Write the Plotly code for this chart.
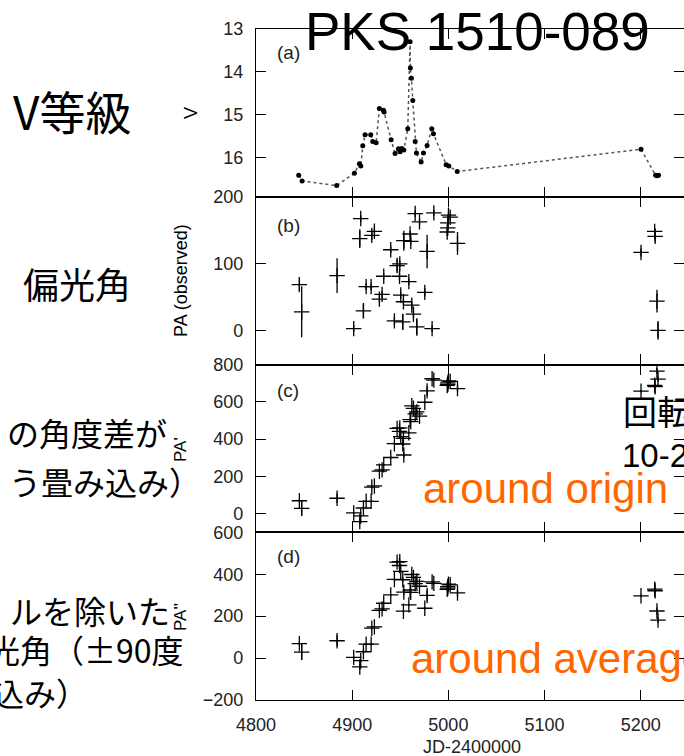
import plotly.graph_objects as go

# ---------------- data ----------------
jd_v = [4844.4, 4847.9, 4883.9, 4902.3, 4907.5, 4909.0, 4911.0, 4913.4, 4919.3, 4921.4,
        4924.9, 4928.3, 4932.5, 4933.2, 4940.5, 4944.6, 4948.1, 4949.8, 4951.6, 4953.7,
        4957.8, 4960.2, 4960.5, 4961.6, 4963.0, 4965.5, 4966.8, 4971.7, 4974.1, 4977.9,
        4982.8, 4984.5, 4997.7, 5000.5, 5009.2, 5200.3, 5215.5, 5217.0, 5218.5]
v_mag = [16.42, 16.55, 16.66, 16.37, 16.15, 16.20, 15.73, 15.47, 15.47, 15.63,
         15.66, 14.86, 14.90, 14.94, 15.59, 15.91, 15.80, 15.87, 15.79, 15.83,
         15.33, 13.30, 13.91, 14.15, 14.67, 15.63, 15.90, 16.11, 15.90, 15.72,
         15.33, 15.45, 16.17, 16.20, 16.33, 15.81, 16.42, 16.43, 16.42]

jd_pa = [4845.1, 4847.5, 4884.3, 4901.6, 4907.9, 4908.9, 4911.7, 4914.5, 4919.7, 4920.4,
         4923.1, 4928.3, 4931.1, 4932.8, 4940.1, 4943.9, 4946.7, 4949.2, 4949.5, 4950.5,
         4952.6, 4953.3, 4953.7, 4958.9, 4960.2, 4960.9, 4962.0, 4963.7, 4965.5, 4967.2,
         4970.0, 4975.5, 4977.9, 4983.1, 4984.9, 4998.8, 4999.4, 4999.4, 5000.1, 5001.9,
         5009.5, 5200.3, 5214.5, 5215.0, 5216.9, 5218.0]
pa_obs = [69, 28.5, 82.5, 3.5, 137.5, 167.5, 30, 66, 66, 142.5,
          148.5, 47.5, 54.5, 81.5, 121, 15, 97.5, 81.5, 100, 53.5,
          13.5, 43.5, 134.5, 73.5, 144.5, 133.5, 38.5, 25, 175, 6,
          162.5, 57.5, 118.5, 3.5, 176, 147.5, 153.5, 161, 172.5, 169.5,
          130.5, 117, 148.4, 141, 44.5, 1]
pa_err = [9, 38, 26, 5, 14, 5, 11, 5, 5, 7,
          5, 6, 5, 5, 5, 6, 9, 6, 5, 5,
          12, 5, 15, 5, 5, 5, 6, 6, 5, 13,
          5, 6, 25, 5, 5, 6, 6, 6, 5, 5,
          17, 6, 5, 8, 17, 14]
pa_origin = [69, 28.5, 82.5, 3.5, -42.5, -12.5, 30, 66, 66, 142.5,
             148.5, 227.5, 234.5, 261.5, 301, 375, 457.5, 441.5, 460, 413.5,
             373.5, 403.5, 314.5, 433.5, 504.5, 493.5, 578.5, 565, 535, 546,
             522.5, 597.5, 658.5, 723.5, 716, 687.5, 693.5, 701, 712.5, 709.5,
             670.5, 657, 688.4, 681, 764.5, 721]
pa_average = [69, 28.5, 82.5, 3.5, -42.5, -12.5, 30, 66, 66, 142.5,
              148.5, 227.5, 234.5, 261.5, 301, 375, 457.5, 441.5, 460, 413.5,
              373.5, 223.5, 314.5, 253.5, 324.5, 313.5, 398.5, 385, 355, 366,
              342.5, 237.5, 298.5, 363.5, 356, 327.5, 333.5, 341, 352.5, 349.5,
              310.5, 297, 328.4, 321, 224.5, 181]

x_ticks = [4800, 4900, 5000, 5100, 5200]
v_ticks = [13, 14, 15, 16]
b_ticks = [0, 100, 200]
c_ticks = [0, 200, 400, 600, 800]
d_ticks = [-200, 0, 200, 400, 600]

# ---------------- geometry helpers ----------------
W, H = 684, 756
L, R, T, B = 256, 684, 29, 700


def px(xp):
    return (xp - L) / (R - L)


def py(yp):
    return (B - yp) / (B - T)


LATIN = "Liberation Sans, Arial, sans-serif"
CJK = "Noto Sans CJK JP, sans-serif"

fig = go.Figure()

fig.add_trace(go.Scatter(
    x=jd_v, y=v_mag, mode="lines+markers",
    line=dict(color="#555555", dash="dot", width=1.5),
    marker=dict(color="black", size=5),
    xaxis="x", yaxis="y", showlegend=False, hoverinfo="skip"))

for vals, ax in [(pa_obs, "2"), (pa_origin, "3"), (pa_average, "4")]:
    fig.add_trace(go.Scatter(
        x=jd_pa, y=vals, mode="markers",
        marker=dict(symbol="cross-thin", size=11, color="black",
                    line=dict(width=1.3, color="black")),
        error_y=dict(type="data", array=pa_err, width=0, thickness=1.3, color="black"),
        xaxis="x" + ax, yaxis="y" + ax, showlegend=False, hoverinfo="skip"))

tickfont = dict(family=LATIN, size=18, color="#222222")
common_x = dict(range=[4800, 5245], showline=True, linecolor="black", linewidth=1.3,
                mirror="ticks", ticks="inside", ticklen=10, tickwidth=1.3,
                tickcolor="black", tickvals=x_ticks, showgrid=False, zeroline=False,
                tickfont=tickfont)
common_y = dict(showline=True, linecolor="black", linewidth=1.3, mirror="ticks",
                ticks="inside", ticklen=10, tickwidth=1.3, tickcolor="black",
                showgrid=False, zeroline=False, tickfont=tickfont,
                ticklabelstandoff=8)

fig.update_layout(
    width=W, height=H,
    margin=dict(l=L, r=W - R, t=T, b=H - B, pad=0),
    paper_bgcolor="white", plot_bgcolor="white",
    xaxis=dict(common_x, anchor="y", showticklabels=False, matches="x4"),
    xaxis2=dict(common_x, anchor="y2", showticklabels=False, matches="x4"),
    xaxis3=dict(common_x, anchor="y3", showticklabels=False, matches="x4"),
    xaxis4=dict(common_x, anchor="y4", showticklabels=True, ticklabelstandoff=8),
    yaxis=dict(common_y, domain=[0.75, 1.0], range=[16.92, 13], tickvals=v_ticks),
    yaxis2=dict(common_y, domain=[0.5, 0.75], range=[-50, 200], tickvals=b_ticks),
    yaxis3=dict(common_y, domain=[0.25, 0.5], range=[-100, 800], tickvals=c_ticks),
    yaxis4=dict(common_y, domain=[0.0, 0.25], range=[-200, 600], tickvals=d_ticks),
)

ann = []


def add(text, xp, yp, size, family=LATIN, color="black", xanchor="center",
        yanchor="middle", angle=0):
    ann.append(dict(text=text, x=px(xp), y=py(yp), xref="paper", yref="paper",
                    showarrow=False, xanchor=xanchor, yanchor=yanchor,
                    textangle=angle, font=dict(family=family, size=size, color=color)))


# panel labels
for lab, yy in [("(a)", 53), ("(b)", 225), ("(c)", 390), ("(d)", 556)]:
    add(lab, 275, yy, 19, color="#222222", xanchor="left")

# axis titles
add("V", 191, 113, 18, angle=-90)
add("PA (observed)", 181, 281, 18, angle=-90)
add("PA'", 180, 450, 17, angle=-90)
add("PA''", 180, 617, 17, angle=-90)
add("JD-2400000", 472, 747, 18, color="#222222")

# title
add("PKS 1510-089", 477, 31, 53)

# Japanese slide text (left)
add("V等級", 11, 110, 46, family=CJK, xanchor="left")
add("偏光角", 21, 283, 36, family=CJK, xanchor="left")
add("の角度差が", 169, 432, 32, family=CJK, xanchor="right")
add("う畳み込み）", 203, 481, 32, family=CJK, xanchor="right")
add("ルを除いた", 172, 610, 32, family=CJK, xanchor="right")
add("光角（±90度", 186, 649, 32, family=CJK, xanchor="right")
add("込み）", 90, 692, 32, family=CJK, xanchor="right")

# right side text
add("回転", 621, 411, 34, family=CJK, xanchor="left")
add("10-2", 620, 455, 33, xanchor="left")
add("around origin", 421, 489, 42, color="#FF6600", xanchor="left")
add("around average", 409, 658, 42, color="#FF6600", xanchor="left")

fig.update_layout(annotations=ann)

fig.write_html("out.html")
